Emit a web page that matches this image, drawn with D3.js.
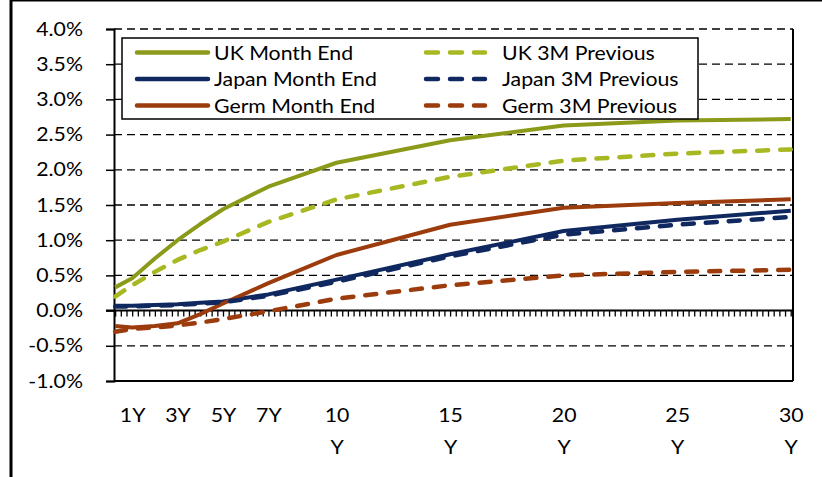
<!DOCTYPE html>
<html>
<head>
<meta charset="utf-8">
<script src="https://cdn.jsdelivr.net/npm/d3@7"></script>
<style>
  body { margin: 0; background: #fff; }
  svg { display: block; }
  text { font-family: Lato, "Open Sans", sans-serif; fill: #000; }
</style>
</head>
<body>
<svg id="chart" width="822" height="477"></svg>
<script>
// Maturities in years
const maturities = [0.25, 1, 2, 3, 4, 5, 7, 10, 15, 20, 25, 30];

// Yields in percent
const ukMonthEnd     = [0.33, 0.46, 0.74, 1.00, 1.23, 1.44, 1.76, 2.10, 2.42, 2.63, 2.70, 2.72];
const ukPrevious     = [0.20, 0.36, 0.55, 0.72, 0.86, 0.98, 1.26, 1.58, 1.90, 2.13, 2.23, 2.29];
const japanMonthEnd  = [0.07, 0.07, 0.08, 0.09, 0.11, 0.13, 0.23, 0.44, 0.80, 1.13, 1.29, 1.42];
const japanPrevious  = [0.06, 0.06, 0.07, 0.08, 0.10, 0.12, 0.21, 0.41, 0.77, 1.08, 1.22, 1.33];
const germMonthEnd   = [-0.22, -0.24, -0.22, -0.18, -0.05, 0.10, 0.39, 0.79, 1.22, 1.46, 1.53, 1.58];
const germPrevious   = [-0.30, -0.26, -0.24, -0.21, -0.17, -0.12, -0.01, 0.17, 0.36, 0.50, 0.55, 0.58];

// Axis ticks
const xTickValues = [1, 3, 5, 7, 10, 15, 20, 25, 30];
const xTickLabels = ["1Y", "3Y", "5Y", "7Y", "10|Y", "15|Y", "20|Y", "25|Y", "30|Y"];
const yTickValues = [-1, -0.5, 0, 0.5, 1, 1.5, 2, 2.5, 3, 3.5, 4];

const series = [
  { name: "UK Month End",     values: ukMonthEnd,    color: "#8C9A1A", dashed: false },
  { name: "Japan Month End",  values: japanMonthEnd, color: "#0F2860", dashed: false },
  { name: "Germ Month End",   values: germMonthEnd,  color: "#9C3B0C", dashed: false },
  { name: "UK 3M Previous",   values: ukPrevious,    color: "#A8B823", dashed: true },
  { name: "Japan 3M Previous",values: japanPrevious, color: "#0F2860", dashed: true },
  { name: "Germ 3M Previous", values: germPrevious,  color: "#9C3B0C", dashed: true }
];

const plot = { left: 114, right: 793, top: 29, bottom: 381 };
const textScale = 1.12;
const fontSize = 19;

const svg = d3.select("#chart");

// Outer frame
svg.append("rect")
  .attr("x", 11).attr("y", 0)
  .attr("width", 900).attr("height", 600)
  .attr("fill", "none").attr("stroke", "#000").attr("stroke-width", 3);

const x = d3.scaleLinear().domain([0.2, 30.1]).range([plot.left, plot.right]);
const y = d3.scaleLinear().domain([-1, 4]).range([plot.bottom, plot.top]);

// Dashed horizontal gridlines
svg.append("g")
  .selectAll("line")
  .data(yTickValues.filter(v => v !== 0 && v !== -1))
  .join("line")
  .attr("x1", plot.left).attr("x2", plot.right)
  .attr("y1", d => y(d)).attr("y2", d => y(d))
  .attr("stroke", "#000").attr("stroke-width", 1.3)
  .attr("stroke-dasharray", "8,5");

// Plot border: bottom and right
svg.append("line")
  .attr("x1", plot.left).attr("x2", plot.right)
  .attr("y1", plot.bottom).attr("y2", plot.bottom)
  .attr("stroke", "#000").attr("stroke-width", 2);
svg.append("line")
  .attr("x1", plot.right).attr("x2", plot.right)
  .attr("y1", plot.top).attr("y2", plot.bottom)
  .attr("stroke", "#000").attr("stroke-width", 2);

// Y axis
const fmt = d3.formatLocale({ decimal: ".", thousands: ",", grouping: [3], currency: ["", ""], minus: "-" }).format(".1f");
const yAxis = svg.append("g")
  .attr("transform", `translate(${plot.left},0)`)
  .call(d3.axisLeft(y).tickValues(yTickValues).tickSize(8).tickPadding(23).tickFormat(d => fmt(d) + "%"));
yAxis.select(".domain").attr("stroke-width", 2);
yAxis.selectAll(".tick line").attr("stroke-width", 1.5);
yAxis.selectAll(".tick text")
  .attr("font-size", fontSize).attr("font-family", null)
  .each(function () {
    const t = d3.select(this);
    const tx = +t.attr("x");
    t.attr("x", null).attr("transform", `translate(${tx},0) scale(${textScale},1)`);
  });

// Minor category ticks along the zero line
const minorTicks = d3.range(0.25, 30.01, 0.25);
const xMinor = svg.append("g")
  .attr("transform", `translate(0,${y(0)})`)
  .call(d3.axisBottom(x).tickValues(minorTicks).tickSize(6).tickFormat(""));
xMinor.select(".domain").remove();
xMinor.selectAll(".tick line").attr("stroke-width", 1.3);
svg.append("line")
  .attr("x1", plot.left - 8).attr("x2", plot.right)
  .attr("y1", y(0)).attr("y2", y(0))
  .attr("stroke", "#000").attr("stroke-width", 2);

// X labels below the plot
const xLabels = svg.append("g")
  .attr("transform", `translate(0,${plot.bottom})`)
  .call(d3.axisBottom(x).tickValues(xTickValues).tickSize(0).tickPadding(0)
    .tickFormat((d, i) => xTickLabels[i]));
xLabels.select(".domain").remove();
xLabels.selectAll(".tick text")
  .attr("font-size", fontSize).attr("font-family", null)
  .attr("y", null).attr("dy", null)
  .each(function () {
    const t = d3.select(this);
    const parts = t.text().split("|");
    t.text(null).attr("transform", `scale(${textScale},1)`);
    parts.forEach((p, k) => {
      t.append("tspan").attr("x", 0).attr("y", 41 + k * 32).text(p);
    });
  });

// Series lines
const line = d3.line()
  .x((d, i) => x(maturities[i]))
  .y(d => y(d));

svg.append("g")
  .selectAll("path")
  .data(series)
  .join("path")
  .attr("d", d => line(d.values))
  .attr("fill", "none")
  .attr("stroke", d => d.color)
  .attr("stroke-width", d => d.dashed ? 4.5 : 4)
  .attr("stroke-linecap", d => d.dashed ? "round" : "butt")
  .attr("stroke-linejoin", "round")
  .attr("stroke-dasharray", d => d.dashed ? "11,12" : null);

// Legend
const legend = svg.append("g");
legend.append("rect")
  .attr("x", 122).attr("y", 38).attr("width", 576).attr("height", 81)
  .attr("fill", "#fff").attr("stroke", "#000").attr("stroke-width", 1.5);

const legendCols = [
  { sx: 137, ex: 208, tx: 214 },
  { sx: 426, ex: 485, tx: 502 }
];
const legendRows = [52.5, 79, 105.5];

series.forEach((s, i) => {
  const col = legendCols[Math.floor(i / 3)];
  const ry = legendRows[i % 3];
  legend.append("line")
    .attr("x1", col.sx).attr("x2", col.ex)
    .attr("y1", ry).attr("y2", ry)
    .attr("stroke", s.color)
    .attr("stroke-width", 4.5)
    .attr("stroke-linecap", "round")
    .attr("stroke-dasharray", s.dashed ? "12,12" : null);
  legend.append("text")
    .attr("transform", `translate(${col.tx},${ry + 7}) scale(${textScale},1)`)
    .attr("font-size", fontSize)
    .text(s.name);
});
</script>
</body>
</html>
